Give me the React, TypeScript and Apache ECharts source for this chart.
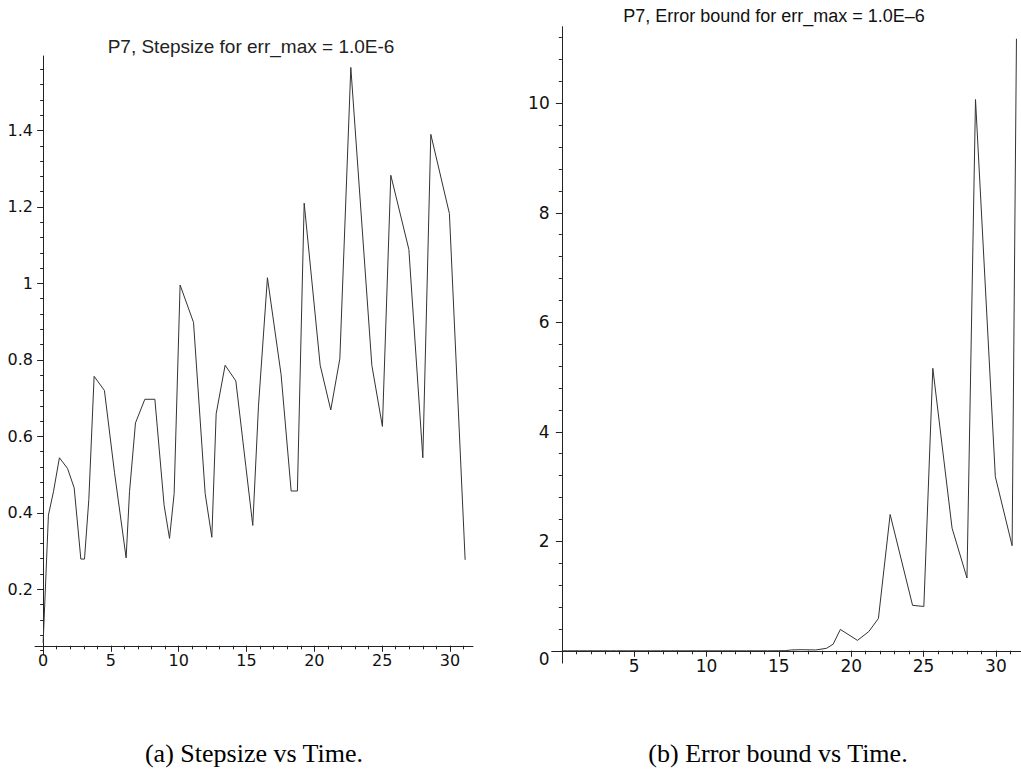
import React, { useEffect, useRef } from "react";
import * as echarts from "echarts";

// ---- Data ----
const stepTimes = [
  0, 0.39, 0.76, 1.2, 1.8, 2.29, 2.78, 3.05, 3.37, 3.76, 4.52, 5.26, 6.12, 6.37, 6.81,
  7.5, 8.24, 8.92, 9.32, 9.66, 10.1, 11.09, 11.95, 12.44, 12.76, 13.42, 14.21, 14.95,
  15.46, 15.88, 16.54, 17.55, 18.29, 18.75, 19.25, 20.43, 21.21, 21.88, 22.69, 24.24,
  25.02, 25.64, 26.97, 28.0, 28.59, 29.96, 31.12,
];
const stepSizes = [
  0.06, 0.394, 0.455, 0.544, 0.516, 0.465, 0.279, 0.279, 0.435, 0.757, 0.72, 0.506,
  0.282, 0.455, 0.635, 0.697, 0.697, 0.42, 0.333, 0.45, 0.996, 0.898, 0.45, 0.336,
  0.659, 0.786, 0.745, 0.521, 0.367, 0.679, 1.015, 0.761, 0.457, 0.457, 1.21, 0.786,
  0.669, 0.803, 1.565, 0.786, 0.626, 1.283, 1.089, 0.544, 1.39, 1.183, 0.277,
];

const errTimes = [
  0, 0.39, 0.76, 1.2, 1.8, 2.29, 2.78, 3.05, 3.37, 3.76, 4.52, 5.26, 6.12, 6.37, 6.81,
  7.5, 8.24, 8.92, 9.32, 9.66, 10.1, 11.09, 11.95, 12.44, 12.76, 13.42, 14.21, 14.95,
  15.46, 15.88, 16.54, 17.55, 18.29, 18.75, 19.25, 20.43, 21.21, 21.88, 22.69, 24.24,
  25.02, 25.64, 26.97, 28.0, 28.59, 29.96, 31.12, 31.42,
];
const errBounds = [
  0, 0, 0, 0, 0, 0, 0, 0, 0, 0, 0, 0, 0, 0, 0,
  0, 0, 0, 0, 0, 0, 0, 0, 0, 0, 0, 0, 0.001,
  0.003, 0.015, 0.02, 0.015, 0.045, 0.12, 0.39, 0.19, 0.35, 0.59, 2.49, 0.83,
  0.81, 5.16, 2.24, 1.33, 10.07, 3.18, 1.92, 11.18,
];

const stepXLabels = [0, 5, 10, 15, 20, 25, 30];
const stepYLabels = [0.2, 0.4, 0.6, 0.8, 1, 1.2, 1.4];
const errXLabels = [5, 10, 15, 20, 25, 30];
const errYLabels = [0, 2, 4, 6, 8, 10];

const titleLeft = "P7, Stepsize for err_max = 1.0E-6";
const titleRight = "P7, Error bound for err_max = 1.0E\u20136";
const captionLeft = "(a) Stepsize vs Time.";
const captionRight = "(b) Error bound vs Time.";

function steps(start: number, stop: number, step: number, decimals: number): number[] {
  const out: number[] = [];
  const n = Math.round((stop - start) / step);
  for (let i = 0; i <= n; i++) out.push(Number((start + i * step).toFixed(decimals)));
  return out;
}

const AXIS_COLOR = "#222";
const LINE_COLOR = "#333";
const TICK_FONT = "DejaVu Sans";

export default function App() {
  const ref = useRef<HTMLDivElement>(null);

  useEffect(() => {
    if (!ref.current) return;
    const chart = echarts.init(ref.current, undefined, { renderer: "svg" });

    const lineStyle = { color: AXIS_COLOR, width: 1 };
    const leftMinorX = steps(1, 31, 1, 0);
    const leftMinorY = steps(0.04, 1.56, 0.04, 2);
    const rightMinorX = steps(1, 31, 1, 0);
    const rightMinorY = steps(0.4, 11.2, 0.4, 1);

    const option: any = {
      animation: false,
      backgroundColor: "#fff",
      grid: [
        { left: 35, top: 56, width: 438, height: 599, containLabel: false },
        { left: 551.7, top: 26.7, width: 469.1, height: 636.4, containLabel: false },
      ],
      xAxis: [
        {
          gridIndex: 0, type: "value", min: -0.6, max: 31.7, position: "bottom", offset: -9.2,
          axisLine: { show: true, onZero: false, lineStyle },
          axisTick: { show: true, customValues: stepXLabels, length: 6, lineStyle },
          axisLabel: {
            customValues: stepXLabels, margin: 7, color: "#111",
            fontFamily: TICK_FONT, fontSize: 16,
          },
          splitLine: { show: false },
        },
        {
          gridIndex: 0, type: "value", min: -0.6, max: 31.7, position: "bottom", offset: -9.2,
          axisLine: { show: false, onZero: false },
          axisTick: { show: true, customValues: leftMinorX, length: 3.5, lineStyle },
          axisLabel: { show: false },
          splitLine: { show: false },
        },
        {
          gridIndex: 1, type: "value", min: -0.7, max: 31.72, position: "bottom",
          axisLine: { show: true, onZero: true, onZeroAxisIndex: 2, lineStyle },
          axisTick: { show: true, customValues: errXLabels, length: 6, lineStyle },
          axisLabel: {
            customValues: errXLabels, margin: -6, color: "#111",
            fontFamily: TICK_FONT, fontSize: 17,
          },
          splitLine: { show: false },
        },
        {
          gridIndex: 1, type: "value", min: -0.7, max: 31.72, position: "bottom",
          axisLine: { show: false, onZero: true, onZeroAxisIndex: 3 },
          axisTick: { show: true, customValues: rightMinorX, length: 3.5, lineStyle },
          axisLabel: { show: false },
          splitLine: { show: false },
        },
      ],
      yAxis: [
        {
          gridIndex: 0, type: "value", min: 0.028, max: 1.595, position: "left",
          axisLine: { show: true, onZero: true, onZeroAxisIndex: 0, lineStyle },
          axisTick: { show: true, customValues: stepYLabels, length: 6, lineStyle },
          axisLabel: {
            customValues: stepYLabels, margin: 2, color: "#111",
            fontFamily: TICK_FONT, fontSize: 16,
          },
          splitLine: { show: false },
        },
        {
          gridIndex: 0, type: "value", min: 0.028, max: 1.595, position: "left",
          axisLine: { show: false, onZero: true, onZeroAxisIndex: 1 },
          axisTick: { show: true, customValues: leftMinorY, length: 3, lineStyle },
          axisLabel: { show: false },
          splitLine: { show: false },
        },
        {
          gridIndex: 1, type: "value", min: -0.225, max: 11.4, position: "left",
          axisLine: { show: true, onZero: true, onZeroAxisIndex: 2, lineStyle },
          axisTick: { show: true, customValues: errYLabels, length: 6, lineStyle },
          axisLabel: {
            customValues: errYLabels, margin: 2, color: "#111",
            fontFamily: TICK_FONT, fontSize: 17,
            formatter: (v: number) => (v === 0 ? "{z|0}" : String(v)),
            rich: { z: { padding: [16, 0, 0, 0], fontFamily: TICK_FONT, fontSize: 17, color: "#111" } },
          },
          splitLine: { show: false },
        },
        {
          gridIndex: 1, type: "value", min: -0.225, max: 11.4, position: "left",
          axisLine: { show: false, onZero: true, onZeroAxisIndex: 3 },
          axisTick: { show: true, customValues: rightMinorY, length: 3, lineStyle },
          axisLabel: { show: false },
          splitLine: { show: false },
        },
      ],
      series: [
        {
          type: "line", xAxisIndex: 0, yAxisIndex: 0, showSymbol: false, symbol: "none",
          data: stepTimes.map((t, i) => [t, stepSizes[i]]),
          lineStyle: { color: LINE_COLOR, width: 1 },
        },
        {
          type: "line", xAxisIndex: 2, yAxisIndex: 2, showSymbol: false, symbol: "none",
          data: errTimes.map((t, i) => [t, errBounds[i]]),
          lineStyle: { color: LINE_COLOR, width: 1 },
        },
      ],
      graphic: [
        {
          type: "text", x: 251, y: 46,
          style: {
            text: titleLeft, fill: "#222", font: "19px 'Liberation Sans', Arial, sans-serif",
            textAlign: "center", align: "center", textVerticalAlign: "middle", verticalAlign: "middle",
          },
        },
        {
          type: "text", x: 774, y: 16,
          style: {
            text: titleRight, fill: "#111", font: "18px 'Liberation Sans', Arial, sans-serif",
            textAlign: "center", align: "center", textVerticalAlign: "middle", verticalAlign: "middle",
          },
        },
        {
          type: "text", x: 254, y: 753,
          style: {
            text: captionLeft, fill: "#000", font: "26px 'Liberation Serif', 'Times New Roman', serif",
            textAlign: "center", align: "center", textVerticalAlign: "middle", verticalAlign: "middle",
          },
        },
        {
          type: "text", x: 778, y: 753,
          style: {
            text: captionRight, fill: "#000", font: "26px 'Liberation Serif', 'Times New Roman', serif",
            textAlign: "center", align: "center", textVerticalAlign: "middle", verticalAlign: "middle",
          },
        },
      ],
    };

    chart.setOption(option);
    return () => chart.dispose();
  }, []);

  return (
    <div
      ref={ref}
      style={{ position: "absolute", left: 0, top: 0, width: 1021, height: 770 }}
    />
  );
}
